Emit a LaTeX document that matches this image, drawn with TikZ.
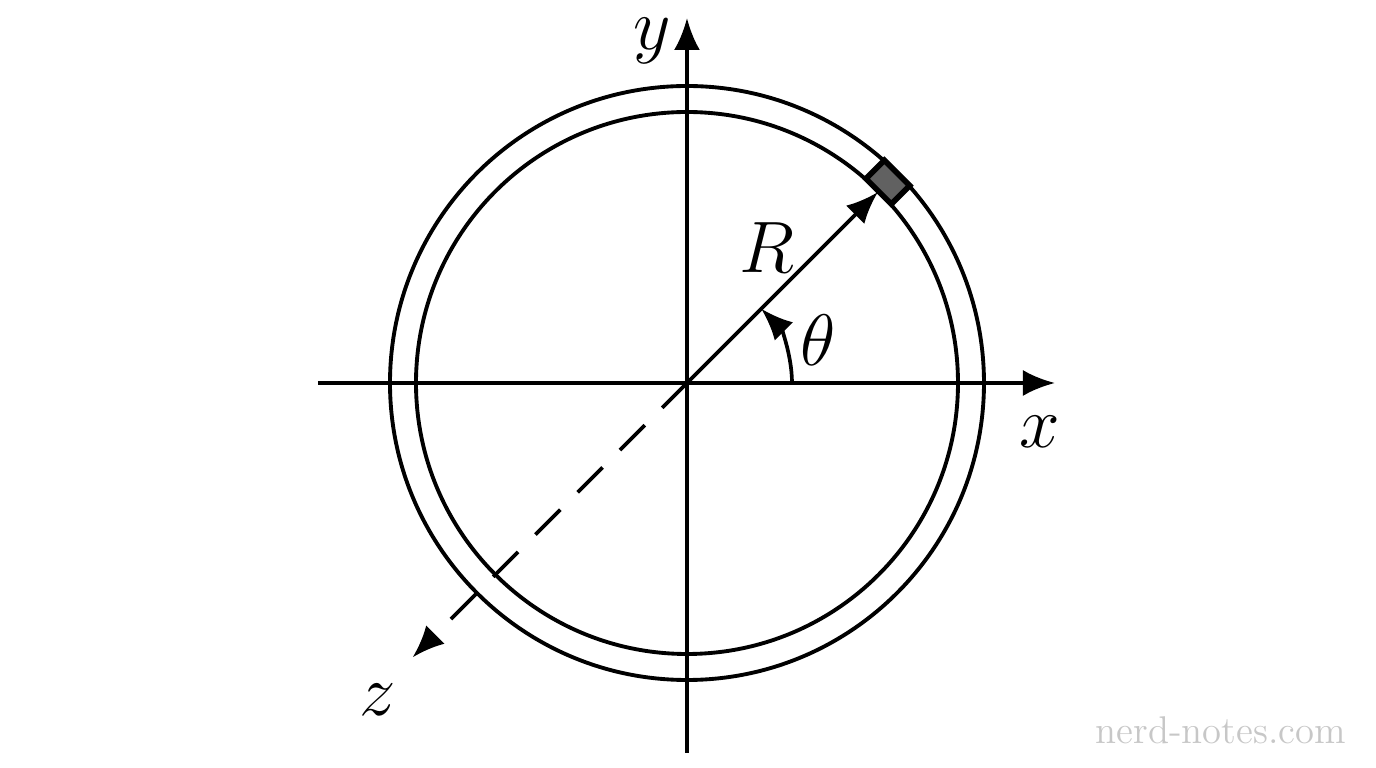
\documentclass[tikz,border=0pt]{standalone}
\usepackage{amsmath}
\usetikzlibrary{positioning, arrows.meta}

\begin{document}
\begin{tikzpicture}[line width=1.05pt,
  axis arrow/.style={-{Latex[length=3.2mm,width=2.6mm]}},
  ring line/.style={line width=1.1pt},
  axis label/.style={font=\huge, inner sep=0pt}]

\useasboundingbox (-6.87,-3.85) rectangle (6.89,3.83);

\coordinate (O) at (0,0);
\coordinate (XL) at (-3.69,0);
\coordinate (XR) at (3.68,0);
\coordinate (YB) at (0,-3.70);
\coordinate (YT) at (0,3.65);
\coordinate (Z) at (225:3.88);
\coordinate (P) at (45:2.70);

% rings
\draw[ring line] (O) circle (2.97);
\draw[ring line] (O) circle (2.71);

% axes
\draw[axis arrow] (XL) -- (XR);
\draw[axis arrow] (YB) -- (YT);
\draw[axis arrow, dash pattern=on 10pt off 7pt] (O) -- (Z);

% element on the ring
\draw[line width=1.6pt, fill=black!62, rotate=45] (2.71,-0.18) rectangle (2.97,0.18);

% radius and angle
\draw[axis arrow] (O) -- (P);
\draw[axis arrow] (1.05,0) arc (0:45:1.05);

\node[axis label] (ylab) at (-0.35,3.42) {$y$};
\node[axis label] (xlab) at (3.53,-0.49) {$x$};
\node[axis label] (zlab) at (-3.09,-3.17) {$z$};
\node[axis label] (Rlab) at (0.80,1.35) {$R$};
\node[axis label] (thlab) at (1.31,0.43) {$\theta$};

\node[text=black!22, font=\fontsize{11}{13}\selectfont] (mark) at (5.34,-3.47) {nerd-notes.com};

\end{tikzpicture}
\end{document}
